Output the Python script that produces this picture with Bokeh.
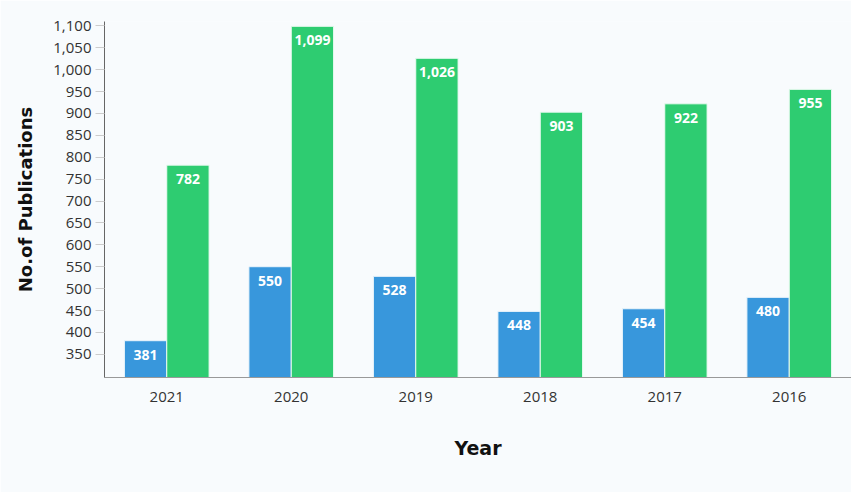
from bokeh.plotting import figure
from bokeh.models import (ColumnDataSource, FactorRange, Range1d, FixedTicker,
                          NumeralTickFormatter, Legend, LegendItem)
from bokeh.transform import dodge
from bokeh.core.properties import value
from bokeh.embed import file_html
from bokeh.resources import INLINE

years = ["2021", "2020", "2019", "2018", "2017", "2016"]
edt = [381, 550, 528, 448, 454, 480]
ed = [782, 1099, 1026, 903, 922, 955]
y_ticks = [350, 400, 450, 500, 550, 600, 650, 700, 750, 800, 850, 900, 950, 1000, 1050, 1100]

BG = "#f8fbfd"
BLUE = "#3897dc"
GREEN = "#2ecc71"

src = ColumnDataSource(dict(
    year=years, edt=edt, ed=ed,
    edt_lbl=[f"{v:,}" for v in edt],
    ed_lbl=[f"{v:,}" for v in ed],
))

p = figure(width=851, height=492, frame_width=747, frame_height=356,
           x_range=FactorRange(*years),
           y_range=Range1d(297, 1110), output_backend="svg",
           toolbar_location=None, background_fill_color=BG,
           border_fill_color=BG, outline_line_color=None,
           min_border_left=104, min_border_right=0, min_border_top=21,
           min_border_bottom=0)

p.grid.grid_line_color = None

w = 0.34
r1 = p.vbar(x=dodge("year", -w / 2, range=p.x_range), top="edt", bottom=297,
            width=w, source=src, fill_color=BLUE, line_color="#eaf4fb", line_width=1)
r2 = p.vbar(x=dodge("year", w / 2, range=p.x_range), top="ed", bottom=297,
            width=w, source=src, fill_color=GREEN, line_color="#eafaf1", line_width=1)

for col, off in (("edt", -w / 2), ("ed", w / 2)):
    p.text(x=dodge("year", off, range=p.x_range), y=col, text=col + "_lbl",
           source=src, text_color="white", text_font=value("Open Sans"),
           text_font_style="bold", text_font_size="14px", text_align="center",
           text_baseline="top", y_offset=9)

# y axis
ya = p.yaxis[0]
ya.ticker = FixedTicker(ticks=y_ticks)
ya.formatter = NumeralTickFormatter(format="0,0")
ya.axis_label = "No.of Publications"
ya.axis_label_text_font = "DejaVu Sans"
ya.axis_label_text_font_style = "bold"
ya.axis_label_text_font_size = "18px"
ya.axis_label_text_color = "#111111"
ya.axis_label_standoff = 14
ya.major_label_text_font = "Open Sans"
ya.major_label_text_font_size = "15px"
ya.major_label_text_color = "#333333"
ya.major_tick_out = 9
ya.major_tick_in = 0
ya.major_tick_line_color = "#cccccc"
ya.minor_tick_line_color = None
ya.axis_line_color = "#666666"
ya.major_label_standoff = 4

# x axis
xa = p.xaxis[0]
xa.axis_label = "Year"
xa.axis_label_text_font = "DejaVu Sans"
xa.axis_label_text_font_style = "bold"
xa.axis_label_text_font_size = "19px"
xa.axis_label_text_color = "#111111"
xa.axis_label_standoff = 32
xa.major_label_text_font = "Open Sans"
xa.major_label_text_font_size = "15px"
xa.major_label_text_color = "#333333"
xa.major_label_standoff = 8
xa.major_tick_line_color = None
xa.axis_line_color = "#999999"

legend = Legend(items=[LegendItem(label="EDT", renderers=[r1]),
                       LegendItem(label="ED", renderers=[r2])],
                orientation="horizontal", location=(284, 0),
                background_fill_alpha=0, border_line_color=None,
                label_text_font="Open Sans", label_text_font_size="16px",
                label_text_color="#333333", glyph_width=20, glyph_height=18,
                label_height=18, spacing=10, padding=0, margin=2,
                label_standoff=7)
p.add_layout(legend, "below")

open("out.html", "w").write(file_html(p, INLINE))
